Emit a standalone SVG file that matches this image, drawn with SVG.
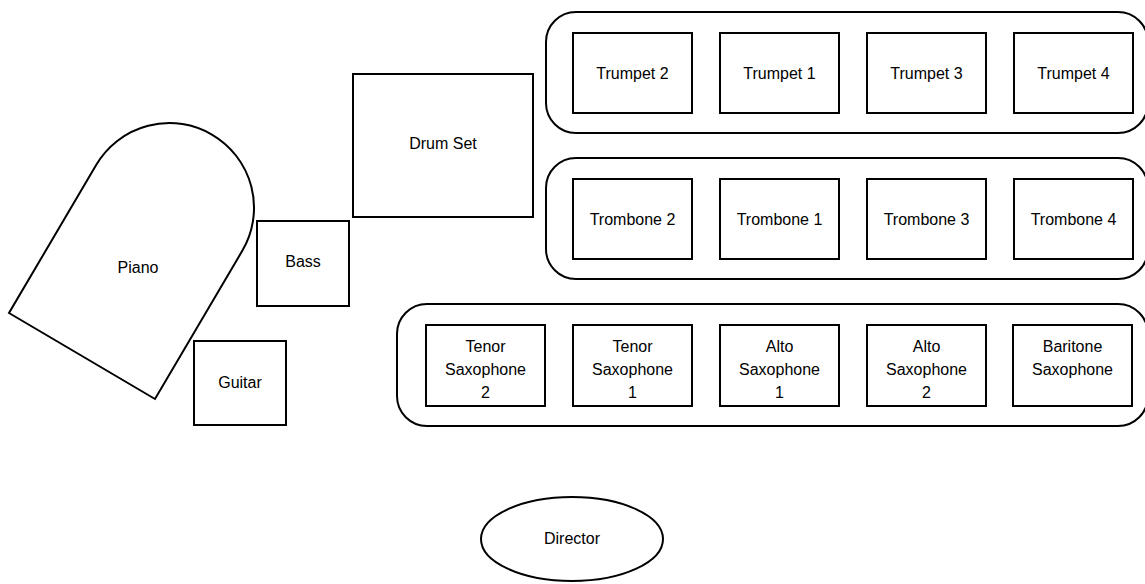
<svg xmlns="http://www.w3.org/2000/svg" width="1145" height="584" viewBox="0 0 1145 584">
<style>
.s{fill:#fff;stroke:#000;stroke-width:2}
.g{fill:none;stroke:#000;stroke-width:2}
text{font-family:"Liberation Sans",Arial,sans-serif;font-size:16px;fill:#000;text-anchor:middle}
</style>
<rect width="1145" height="584" fill="#fff"/>
<g id="groups">
<rect id="trumpet-section" class="g" x="546" y="12" width="602" height="121" rx="30"/>
<rect id="trombone-section" class="g" x="546" y="158" width="602" height="121" rx="30"/>
<rect id="sax-section" class="g" x="397" y="304" width="751" height="122" rx="30"/>
</g>
<g id="piano">
<path class="s" d="M9,313 L155,399 L242.3,250.8 A84.7,84.7 0 0 0 96.3,164.8 Z"/>
<text x="138" y="273">Piano</text>
</g>
<g id="drums"><rect class="s" x="353" y="74" width="180" height="143"/><text x="443" y="149">Drum Set</text></g>
<g id="bass"><rect class="s" x="257" y="221" width="92" height="85"/><text x="303" y="267">Bass</text></g>
<g id="guitar"><rect class="s" x="194" y="341" width="92" height="84"/><text x="240" y="388">Guitar</text></g>
<g id="trumpet2"><rect class="s" x="573" y="33" width="119" height="80"/><text x="632.5" y="79">Trumpet 2</text></g>
<g id="trumpet1"><rect class="s" x="720" y="33" width="119" height="80"/><text x="779.5" y="79">Trumpet 1</text></g>
<g id="trumpet3"><rect class="s" x="867" y="33" width="119" height="80"/><text x="926.5" y="79">Trumpet 3</text></g>
<g id="trumpet4"><rect class="s" x="1014" y="33" width="119" height="80"/><text x="1073.5" y="79">Trumpet 4</text></g>
<g id="trombone2"><rect class="s" x="573" y="179" width="119" height="80"/><text x="632.5" y="225">Trombone 2</text></g>
<g id="trombone1"><rect class="s" x="720" y="179" width="119" height="80"/><text x="779.5" y="225">Trombone 1</text></g>
<g id="trombone3"><rect class="s" x="867" y="179" width="119" height="80"/><text x="926.5" y="225">Trombone 3</text></g>
<g id="trombone4"><rect class="s" x="1014" y="179" width="119" height="80"/><text x="1073.5" y="225">Trombone 4</text></g>
<g id="tenor2"><rect class="s" x="426" y="325" width="119" height="81"/><text x="485.5" y="352"><tspan x="485.5">Tenor</tspan><tspan x="485.5" dy="23">Saxophone</tspan><tspan x="485.5" dy="23">2</tspan></text></g>
<g id="tenor1"><rect class="s" x="573" y="325" width="119" height="81"/><text x="632.5" y="352"><tspan x="632.5">Tenor</tspan><tspan x="632.5" dy="23">Saxophone</tspan><tspan x="632.5" dy="23">1</tspan></text></g>
<g id="alto1"><rect class="s" x="720" y="325" width="119" height="81"/><text x="779.5" y="352"><tspan x="779.5">Alto</tspan><tspan x="779.5" dy="23">Saxophone</tspan><tspan x="779.5" dy="23">1</tspan></text></g>
<g id="alto2"><rect class="s" x="867" y="325" width="119" height="81"/><text x="926.5" y="352"><tspan x="926.5">Alto</tspan><tspan x="926.5" dy="23">Saxophone</tspan><tspan x="926.5" dy="23">2</tspan></text></g>
<g id="baritone"><rect class="s" x="1013" y="325" width="119" height="81"/><text x="1072.5" y="352"><tspan x="1072.5">Baritone</tspan><tspan x="1072.5" dy="23">Saxophone</tspan></text></g>
<g id="director"><ellipse class="s" cx="572" cy="539" rx="91" ry="42"/><text x="572" y="544">Director</text></g>
<g id="connectors"></g>
</svg>
